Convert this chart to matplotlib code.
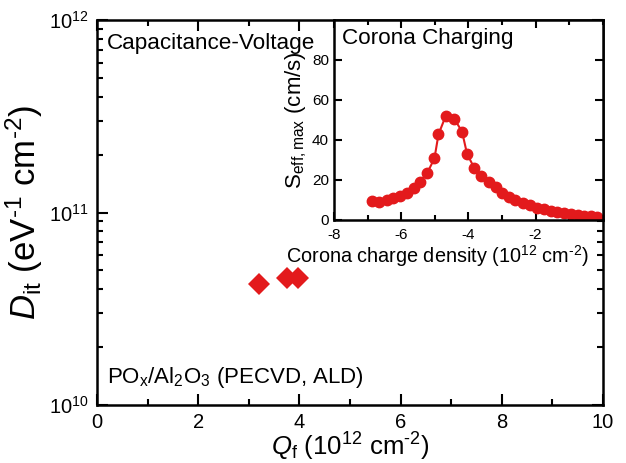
import numpy as np
import matplotlib.pyplot as plt
from matplotlib.ticker import MultipleLocator, LogLocator, NullFormatter

plt.rcParams['font.family'] = ['Liberation Sans', 'DejaVu Sans']
plt.rcParams['mathtext.fontset'] = 'custom'
plt.rcParams['mathtext.rm'] = 'Liberation Sans'
plt.rcParams['mathtext.it'] = 'Liberation Sans:italic'
plt.rcParams['axes.unicode_minus'] = False

# capacitance-voltage data
qf = [3.2, 3.75, 3.97]
dit = [4.25e10, 4.55e10, 4.55e10]

# corona charging data
corona_q = [-6.87, -6.65, -6.43, -6.23, -6.03, -5.83, -5.63, -5.45, -5.23, -5.01,
            -4.89, -4.67, -4.42, -4.19, -4.04, -3.82, -3.62, -3.39, -3.17, -3.0,
            -2.80, -2.6, -2.37, -2.17, -1.95, -1.75, -1.55, -1.35, -1.15, -0.95,
            -0.75, -0.56, -0.36, -0.16]
seff = [9.5, 9.2, 10, 10.8, 12, 13.7, 15.8, 19.2, 23.3, 30.8,
        42.8, 52.2, 50.5, 44.2, 33, 25.8, 22, 19.2, 16.7, 13.7,
        11.7, 10, 8.7, 7.3, 6.2, 5.3, 4.5, 4, 3.3, 3,
        2.5, 2.2, 2, 1.7]

red = '#e31a1c'

fig = plt.figure(figsize=(6.26, 4.63), dpi=100)
ax = fig.add_axes([0.155, 0.125, 0.808, 0.832])
ax.plot(qf, dit, 'D', color=red, markersize=11, markeredgewidth=0)
ax.set_yscale('log')
ax.set_xlim(0, 10)
ax.set_ylim(1e10, 1e12)
ax.xaxis.set_major_locator(MultipleLocator(2))
ax.xaxis.set_minor_locator(MultipleLocator(1))
ax.yaxis.set_major_locator(LogLocator(base=10))
ax.yaxis.set_minor_locator(LogLocator(base=10, subs=np.arange(2, 10)))
ax.yaxis.set_minor_formatter(NullFormatter())
ax.tick_params(which='both', direction='in', top=True, right=True, width=1.5)
ax.tick_params(which='major', length=8, labelsize=14.5)
ax.tick_params(which='minor', length=4.5)
ax.tick_params(axis='x', which='major', pad=6)
ax.tick_params(axis='y', which='major', pad=6)
for s in ax.spines.values():
    s.set_linewidth(1.8)
ax.set_xlabel(r'$Q_{\rm f}$ (10$^{12}$ cm$^{\text{-2}}$)', fontsize=18.5, labelpad=-1)
ax.set_ylabel(r'$D_{\rm it}$ (eV$^{\text{-1}}$ cm$^{\text{-2}}$)', fontsize=25, labelpad=3)
ax.text(0.02, 0.965, 'Capacitance-Voltage', transform=ax.transAxes,
        fontsize=16.2, va='top', ha='left')
ax.text(0.02, 0.04, r'PO$_{\rm x}$/Al$_2$O$_3$ (PECVD, ALD)', transform=ax.transAxes,
        fontsize=16, va='bottom', ha='left')

ins = fig.add_axes([0.5335, 0.525, 0.4295, 0.432])
ins.plot(corona_q, seff, '-o', color=red, markersize=7.5, linewidth=1.5)
ins.set_xlim(-8, 0)
ins.set_ylim(0, 100)
ins.set_xticks([-8, -6, -4, -2])
ins.xaxis.set_minor_locator(MultipleLocator(1))
ins.set_yticks([0, 20, 40, 60, 80])
ins.tick_params(which='both', direction='in', top=True, right=True, width=1.5,
                labelsize=11)
ins.tick_params(which='major', length=6)
ins.tick_params(which='minor', length=3.5)
ins.tick_params(axis='x', pad=5.5)
for s in ins.spines.values():
    s.set_linewidth(1.8)
ins.set_xlabel(r'Corona charge density (10$^{12}$ cm$^{\text{-2}}$)', fontsize=14.3)
ins.xaxis.set_label_coords(0.385, -0.115)
ins.set_ylabel(r'S$_{\rm eff,max}$ (cm/s)', fontsize=16, labelpad=2)
ins.text(0.03, 0.96, 'Corona Charging', transform=ins.transAxes,
         fontsize=16.2, va='top', ha='left')

fig.savefig('out.png', dpi=100)
